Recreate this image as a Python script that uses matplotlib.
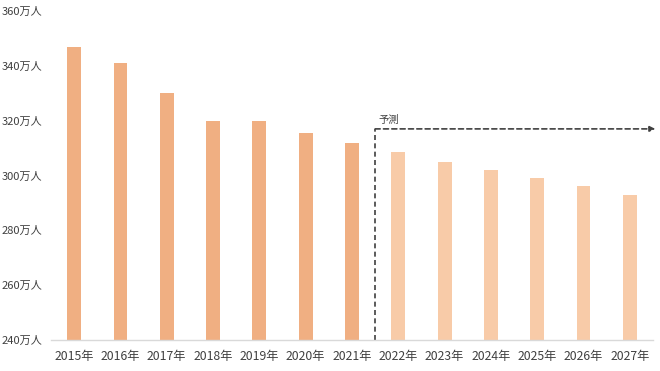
import numpy as np
import matplotlib
matplotlib.use("Agg")
import matplotlib.pyplot as plt

plt.rcParams["font.family"] = ["Noto Sans CJK JP", "DejaVu Sans"]

years = ["2015年", "2016年", "2017年", "2018年", "2019年", "2020年", "2021年",
         "2022年", "2023年", "2024年", "2025年", "2026年", "2027年"]
values = [347, 341, 330, 320, 320, 315.5, 312, 308.5, 305, 302, 299, 296, 293]
n_actual = 7
yticks = [240, 260, 280, 300, 320, 340, 360]
ytick_labels = [f"{v}万人" for v in yticks]

col_actual = "#F0AF82"
col_forecast = "#F8CBA8"

fig = plt.figure(figsize=(6.6, 3.71), dpi=100)
ax = fig.add_axes([51 / 660, 1 - 340 / 371, 602 / 660, 329 / 371])

x = np.arange(len(years))
colors = [col_actual if i < n_actual else col_forecast for i in range(len(years))]
ax.bar(x, values, width=0.3, color=colors, bottom=0)

ax.set_xlim(-0.5, len(years) - 0.5)
ax.set_ylim(240, 360)
ax.set_yticks(yticks)
ax.set_yticklabels(ytick_labels, fontsize=8, color="#404040")
ax.set_xticks(x)
ax.set_xticklabels(years, fontsize=8.8, color="#404040")
ax.tick_params(length=0, axis="y", pad=6)
ax.tick_params(length=0, axis="x", pad=7)

for s in ["left", "right", "top"]:
    ax.spines[s].set_visible(False)
ax.spines["bottom"].set_color("#D9D9D9")
ax.spines["bottom"].set_linewidth(1)

# forecast marker
split = n_actual - 0.5
ax.plot([split, split], [240, 317], ls=(0, (3, 2)), color="#404040", lw=1.2, clip_on=False)
ax.annotate("", xy=(len(years) - 0.45, 317), xytext=(split, 317),
            arrowprops=dict(arrowstyle="-|>", ls=(0, (3, 2)), color="#404040",
                            lw=1.2, mutation_scale=8, shrinkA=0, shrinkB=0),
            annotation_clip=False)
ax.text(split + 0.08, 318.5, "予測", fontsize=7.5, color="#404040", ha="left", va="bottom")

fig.savefig("out.png", dpi=100)
